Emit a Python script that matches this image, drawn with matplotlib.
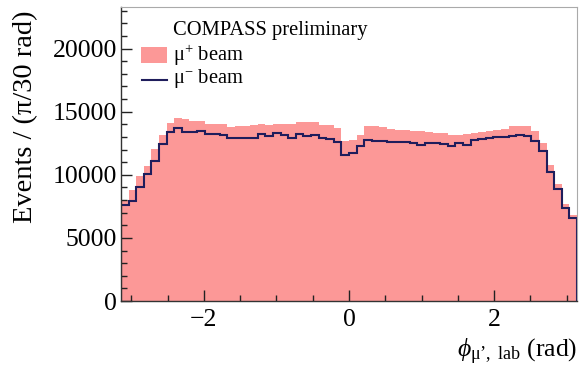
import numpy as np
import matplotlib
matplotlib.use("Agg")
import matplotlib.pyplot as plt
from matplotlib.patches import Rectangle
from matplotlib.lines import Line2D
from matplotlib.ticker import MultipleLocator

plt.rcParams['font.family'] = ['Liberation Serif', 'DejaVu Serif']
plt.rcParams['mathtext.fontset'] = 'custom'
plt.rcParams['mathtext.rm'] = 'Liberation Serif'
plt.rcParams['mathtext.it'] = 'Liberation Serif:italic'

n_bins = 60
x_min, x_max = -np.pi, np.pi

mu_plus = [8000, 8800, 9870, 10660, 12040, 13170, 14100, 14500, 14400, 14300,
           14230, 14050, 14050, 14050, 13800, 13850, 13900, 13950, 14050, 13950,
           14000, 14050, 14050, 14200, 14200, 14150, 13970, 13950, 13700, 12700,
           12750, 13170, 13850, 13850, 13800, 13600, 13570, 13550, 13450, 13440,
           13400, 13350, 13350, 13170, 13170, 13200, 13310, 13400, 13450, 13550,
           13600, 13900, 13900, 13900, 13500, 12550, 10800, 9250, 7650, 6850]

mu_minus = [7620, 7900, 9020, 10080, 11100, 12430, 13360, 13730, 13360, 13410,
            13460, 13250, 13230, 13120, 12880, 12900, 12920, 12950, 13250, 13040,
            13330, 13120, 12900, 13220, 13070, 13180, 12880, 12870, 12620, 11600,
            11750, 12320, 12720, 12700, 12700, 12640, 12640, 12570, 12510, 12330,
            12550, 12510, 12430, 12300, 12490, 12380, 12780, 12830, 12910, 12960,
            12960, 13050, 13170, 13060, 12700, 11850, 10260, 8880, 7360, 6560]

header = "COMPASS preliminary"
labels = ["\u03bc$^{+}$ beam", "\u03bc$^{-}$ beam"]

edges = np.linspace(x_min, x_max, n_bins + 1)

W, H = 580, 377
fig = plt.figure(figsize=(5.8, 3.77), dpi=100)
ax = fig.add_axes([121/W, 76/H, 456/W, 294/H])

pink = '#fc9897'
navy = '#1f1d5c'
ax.stairs(mu_plus, edges, fill=True, color=pink, baseline=0)
ax.stairs(mu_minus, edges, color=navy, linewidth=1.5, baseline=0)

ax.set_xlim(x_min, x_max)
ax.set_ylim(0, 23300)

ax.xaxis.set_major_locator(MultipleLocator(2))
ax.xaxis.set_minor_locator(MultipleLocator(0.5))
ax.yaxis.set_major_locator(MultipleLocator(5000))
ax.yaxis.set_minor_locator(MultipleLocator(1000))
ax.tick_params(which='both', direction='in', top=False, right=False, labelsize=18.5, color='#222222')
ax.tick_params(which='major', length=8, width=1)
ax.tick_params(which='minor', length=4, width=1)
ax.tick_params(axis='y', pad=3)
ax.tick_params(axis='x', pad=6)
ax.set_xticks([-2, 0, 2])
ax.set_xticklabels(['\u22122', '0', '2'])

for s in ['top', 'right']:
    ax.spines[s].set_color('#aaaaaa')
    ax.spines[s].set_linewidth(0.8)
for s in ['left', 'bottom']:
    ax.spines[s].set_color('#333333')
    ax.spines[s].set_linewidth(1.0)

fig.text(26/W, 1 - 117/H, "Events / (\u03c0/30 rad)", rotation=90, fontsize=20.5,
         ha='center', va='center')
fig.text(577/W, 1 - 352/H, "$\\phi_{\\mathrm{\u03bc\u2019,\\ lab}}$ (rad)", fontsize=18.5,
         ha='right', va='center')

fig.text(173/W, 1 - 31/H, header, fontsize=14.8, ha='left', va='center')
fig.patches.append(Rectangle((141/W, 1 - 63/H), 26/W, 16/H, transform=fig.transFigure,
                             facecolor=pink, edgecolor='none'))
fig.lines.append(Line2D([142/W, 167/W], [1 - 80/H, 1 - 80/H], transform=fig.transFigure,
                        color=navy, linewidth=1.5))
fig.text(173/W, 1 - 55/H, labels[0], fontsize=14.8, ha='left', va='center')
fig.text(173/W, 1 - 78/H, labels[1], fontsize=14.8, ha='left', va='center')

fig.savefig("out.png", dpi=100)
